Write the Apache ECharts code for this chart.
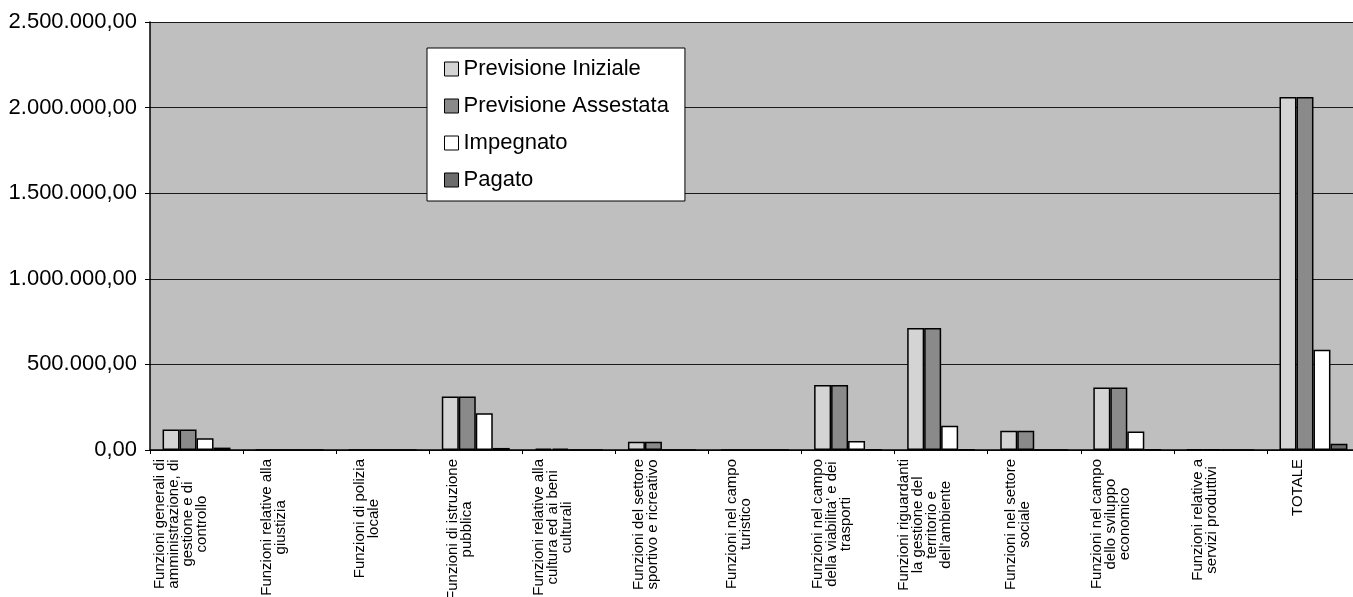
<!DOCTYPE html>
<html>
<head>
<meta charset="utf-8">
<script src="https://cdn.jsdelivr.net/npm/echarts@6/dist/echarts.min.js"></script>
<style>
html,body{margin:0;padding:0;background:#fff;}
#chart{width:1353px;height:597px;}
</style>
</head>
<body>
<div id="chart"></div>
<script>
const categories = [
  "Funzioni generali di\namministrazione, di\ngestione e di\ncontrollo",
  "Funzioni relative alla\ngiustizia",
  "Funzioni di polizia\nlocale",
  "Funzioni di istruzione\npubblica",
  "Funzioni relative alla\ncultura ed ai beni\nculturali",
  "Funzioni del settore\nsportivo e ricreativo",
  "Funzioni nel campo\nturistico",
  "Funzioni nel campo\ndella viabilita' e dei\ntrasporti",
  "Funzioni riguardanti\nla gestione del\nterritorio e\ndell'ambiente",
  "Funzioni nel settore\nsociale",
  "Funzioni nel campo\ndello sviluppo\neconomico",
  "Funzioni relative a\nservizi produttivi",
  "TOTALE"
];
const seriesNames = ["Previsione Iniziale", "Previsione Assestata", "Impegnato", "Pagato"];
const previsioneIniziale  = [120000, 0, 0, 312000, 8000, 48000, 0, 380000, 713000, 113000, 365000, 3000, 2062000];
const previsioneAssestata = [120000, 0, 0, 312000, 8000, 48000, 0, 380000, 713000, 113000, 365000, 3000, 2062000];
const impegnato           = [68000, 0, 0, 214000, 0, 0, 0, 53000, 142000, 0, 108000, 0, 585000];
const pagato              = [14000, 0, 0, 12000, 0, 0, 0, 4000, 4000, 0, 3000, 0, 37000];
const yTicks = [0, 500000, 1000000, 1500000, 2000000, 2500000];

function fmtIt(v) {
  const s = Math.round(v).toString();
  let out = '';
  for (let i = 0; i < s.length; i++) {
    if (i > 0 && (s.length - i) % 3 === 0) out += '.';
    out += s[i];
  }
  return out + ',00';
}

const colors = ['#d4d4d4', '#8a8a8a', '#ffffff', '#6c6c6c'];
const values = [previsioneIniziale, previsioneAssestata, impegnato, pagato];
const FONT = 'Liberation Sans, Arial, sans-serif';

const chart = echarts.init(document.getElementById('chart'), null, {renderer: 'canvas'});
chart.setOption({
  animation: false,
  backgroundColor: '#ffffff',
  textStyle: {fontFamily: FONT},
  grid: {
    left: 150, top: 22, right: -7, bottom: 147,
    containLabel: false,
    outerBoundsMode: 'none',
    show: true, backgroundColor: '#bfbfbf', borderWidth: 0
  },
  legend: {
    orient: 'vertical',
    left: 427, top: 48,
    padding: [9, 16, 9, 17],
    backgroundColor: '#ffffff',
    borderColor: '#000000',
    borderWidth: 1,
    itemWidth: 14, itemHeight: 14,
    itemGap: 13,
    icon: 'rect',
    itemStyle: {borderColor: '#000', borderWidth: 1},
    textStyle: {fontSize: 22, color: '#000', lineHeight: 24, fontFamily: FONT},
    data: seriesNames
  },
  xAxis: {
    type: 'category',
    data: categories,
    axisLine: {lineStyle: {color: '#000', width: 1.5}},
    axisTick: {show: true, length: 4, lineStyle: {color: '#000'}},
    axisLabel: {
      interval: 0,
      rotate: 90,
      margin: 9,
      color: '#000',
      fontSize: 15,
      lineHeight: 14,
      padding: [0, 0, 32, 0],
      fontFamily: FONT,
      formatter: function (v) {
        return v.split('\n').map(function (l) { return '{c|' + l + '}'; }).join('\n');
      },
      rich: {c: {align: 'center', fontSize: 15, lineHeight: 14, color: '#000', fontFamily: FONT}}
    },
    splitLine: {show: false}
  },
  yAxis: {
    type: 'value',
    min: yTicks[0],
    max: yTicks[yTicks.length - 1],
    interval: yTicks[1] - yTicks[0],
    axisLine: {show: true, lineStyle: {color: '#000', width: 1.5}},
    axisTick: {show: true, length: 5, lineStyle: {color: '#000'}},
    axisLabel: {
      fontSize: 22, color: '#000', margin: 13,
      fontFamily: FONT,
      formatter: fmtIt
    },
    splitLine: {show: true, lineStyle: {color: '#1a1a1a', width: 1}}
  },
  series: seriesNames.map(function (name, i) {
    return {
      name: name,
      type: 'bar',
      data: values[i],
      barGap: '0%',
      barCategoryGap: '27%',
      itemStyle: {color: colors[i], borderColor: '#000', borderWidth: 1.5}
    };
  })
});
</script>
</body>
</html>
